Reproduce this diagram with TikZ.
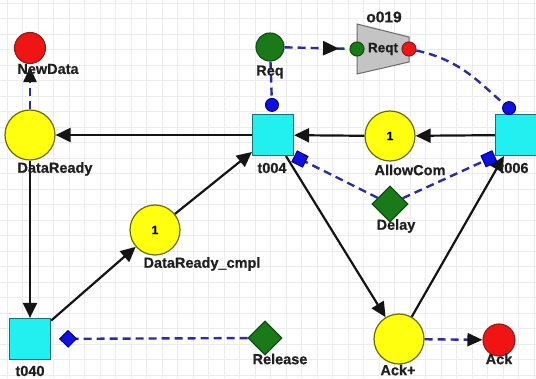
\documentclass[tikz,border=0pt]{standalone}
\usepackage{fontspec}
\setmainfont{Liberation Sans}[BoldFeatures={FakeBold=0.6}]
\usetikzlibrary{arrows.meta,decorations.markings,shapes.geometric}
\definecolor{yellowf}{HTML}{FFFF10}
\definecolor{placeb}{HTML}{6B6B00}
\definecolor{cyanf}{HTML}{22F0F0}
\definecolor{transb}{HTML}{1F6F6F}
\definecolor{redf}{HTML}{F01414}
\definecolor{redb}{HTML}{802020}
\definecolor{greenf}{HTML}{1A7A1A}
\definecolor{greenb}{HTML}{0F4F0F}
\definecolor{grayf}{HTML}{C4C4C4}
\definecolor{grayb}{HTML}{6A6A6A}
\definecolor{dashblue}{HTML}{2B2BA6}
\definecolor{markf}{HTML}{1010E0}
\definecolor{markb}{HTML}{000080}
\definecolor{gridc}{HTML}{ECECEC}
\tikzset{
  place/.style={circle, draw=placeb, fill=yellowf, line width=1.2pt, minimum size=50pt, inner sep=0pt, font=\bfseries\fontsize{12}{12}\selectfont},
  trans/.style={rectangle, draw=transb, fill=cyanf, line width=1.2pt, minimum size=41pt, inner sep=0pt},
  redp/.style={circle, draw=redb, fill=redf, line width=1.1pt, minimum size=31pt, inner sep=0pt},
  greenp/.style={circle, draw=greenb, fill=greenf, line width=1.1pt, minimum size=28pt, inner sep=0pt},
  diam/.style={diamond, aspect=1, draw=greenb, fill=greenf, line width=1.1pt, inner sep=0pt},
  port/.style={circle, line width=1.1pt, minimum size=14pt, inner sep=0pt},
  lbl/.style={font=\bfseries\fontsize{14.5}{16}\selectfont, text=black!88, inner sep=0pt},
  arcs/.style={draw=black!92, line width=2.2pt, -{Triangle[length=15pt,width=14pt]}},
  ctrl/.style={draw=dashblue, line width=2.4pt, dash pattern=on 8pt off 5pt},
  blktip/.style={-{Triangle[length=15pt,width=13pt,color=black!92,fill=black!92]}},
  dottip/.style={-{Circle[length=14pt,width=14pt,color=markb,fill=markf,line width=1pt]}},
  sqtip/.style={-{Square[length=13pt,width=13pt,color=markb,fill=markf,line width=1pt]}},
  dmtip/.style={-{Turned Square[length=18pt,width=18pt,color=markb,fill=markf,line width=1pt]}}
}
\begin{document}
\begin{tikzpicture}[x=1pt,y=1pt]
\useasboundingbox (0,0) rectangle (536,378);
\fill[white] (0,0) rectangle (536,378);
\draw[gridc, line width=0.8pt, step=15.5pt, shift={(7pt,3pt)}] (-7,-3) grid (529,375);

% places and transitions
\node[redp] (NewData) at (30,330) {};
\node[place] (DataReady) at (30,243) {};
\node[trans] (t004) at (273,243) {};
\node[greenp] (Req) at (270,331) {};
\node[place] (AllowCom) at (390,242) {1};
\node[trans] (t006) at (516,243) {};
\node[diam, minimum size=36pt] (Delay) at (390,174) {};
\node[place] (DRcmpl) at (155,148) {1};
\node[trans] (t040) at (30,39) {};
\node[diam, minimum size=34pt] (Release) at (265,40) {};
\node[place] (Ackp) at (399,39) {};
\node[redp, minimum size=32pt] (Ack) at (499,38) {};

% component o019
\draw[draw=grayb, fill=grayf, line width=1pt] (357,354) -- (409,341) -- (409,316) -- (357,304) -- cycle;
\node[font=\bfseries\fontsize{13.5}{14}\selectfont, text=black!88, inner sep=0pt] (Reqt) at (383,329) {Reqt};
\node[port, draw=greenb, fill=greenf] (gport) at (357,329) {};
\node[port, draw=redb, fill=redf] (rport) at (409,329) {};
\node[lbl, font=\bfseries\fontsize{15.5}{16}\selectfont] (o019) at (384,361) {o019};

% black arcs
\draw[arcs] (t004) -- (DataReady);
\draw[arcs] (DataReady) -- (t040);
\draw[arcs] (t040) -- (DRcmpl);
\draw[arcs] (DRcmpl) -- (t004);
\draw[arcs] (t004) -- (Ackp);
\draw[arcs] (Ackp) -- (t006);
\draw[arcs] (t006) -- (AllowCom);
\draw[arcs] (AllowCom) -- (t004);

% control (dashed) arcs
\draw[ctrl, blktip, shorten >=3pt] (DataReady) -- (NewData);
\draw[ctrl, postaction={decorate},
  decoration={markings, mark=at position 0.84 with {\arrow{Triangle[length=16pt,width=14pt,color=black!92,fill=black!92]}}}]
  (Req) -- (gport);
\draw[ctrl, dottip, shorten >=2pt] (Req) -- (t004);
\draw[ctrl, dottip, shorten >=2pt] (rport) to[out=-12, in=140] (t006.north);
\draw[ctrl, sqtip] (Delay) -- (t004.south east);
\draw[ctrl, sqtip] (Delay) -- (t006.south west);
\draw[ctrl, dmtip, shorten >=8pt] (Release) -- (t040);
\draw[ctrl, blktip] (Ackp) -- (Ack);

% labels
\node[lbl] (lNewData) at (48,309) {NewData};
\node[lbl] (lDataReady) at (55,209) {DataReady};
\node[lbl] (lt004) at (272,210) {t004};
\node[lbl] (lReq) at (270,306) {Req};
\node[lbl] (lAllowCom) at (410,208) {AllowCom};
\node[lbl] (lt006) at (514,210) {t006};
\node[lbl] (lDelay) at (396,152) {Delay};
\node[lbl] (lDRcmpl) at (202,114) {DataReady\_cmpl};
\node[lbl] (lt040) at (30,7) {t040};
\node[lbl] (lRelease) at (280,19) {Release};
\node[lbl] (lAckp) at (398,8) {Ack+};
\node[lbl] (lAck) at (499,19) {Ack};
\end{tikzpicture}
\end{document}
